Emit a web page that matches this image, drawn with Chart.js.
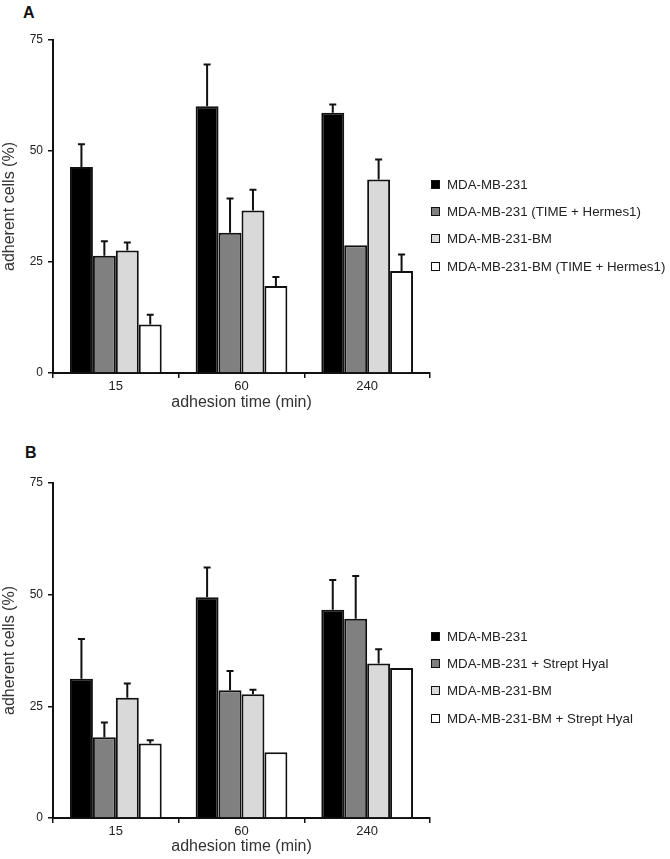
<!DOCTYPE html>
<html>
<head>
<meta charset="utf-8">
<script src="https://cdn.jsdelivr.net/npm/chart.js@4.4.1/dist/chart.umd.min.js"></script>
<style>
  body { margin: 0; background: #fff; font-family: "Liberation Sans", Arial, Helvetica, sans-serif; }
  #wrap { position: relative; width: 670px; height: 859px; overflow: hidden; }
  .panel { position: absolute; left: 0; }
  .tag { position: absolute; font-weight: bold; font-size: 16px; color: #111; }
  .legend { position: absolute; left: 431px; font-size: 13.3px; color: #222; }
  .legend div { position: absolute; left: 0; white-space: nowrap; line-height: 16px; height: 16px; }
  .legend span.box { position: absolute; left: 0; top: 3px; width: 7px; height: 7px; border: 1.5px solid #111; }
  .legend span.txt { position: absolute; left: 16px; top: 0; }
</style>
</head>
<body>
<div id="wrap">
  <div class="tag" style="left:23px;top:4px">A</div>
  <canvas id="chartA" class="panel" width="670" height="420" style="top:0"></canvas>
  <div id="legendA" class="legend" style="top:177px"></div>

  <div class="tag" style="left:25px;top:444px">B</div>
  <canvas id="chartB" class="panel" width="670" height="439" style="top:420px"></canvas>
  <div id="legendB" class="legend" style="top:629px"></div>
</div>
<script>
// adhesion time categories (min) and y ticks
const categories = ['15', '60', '240'];
const yTicks = [0, 25, 50, 75];

// Panel A series
const seriesA = ['MDA-MB-231', 'MDA-MB-231 (TIME + Hermes1)', 'MDA-MB-231-BM', 'MDA-MB-231-BM (TIME + Hermes1)'];
const a231 = [46.4, 60.1, 58.6];
const a231Err = [5.1, 9.4, 1.9];
const a231Time = [26.4, 31.6, 28.8];
const a231TimeErr = [3.3, 7.7, 0];
const aBM = [27.6, 36.6, 43.6];
const aBMErr = [1.8, 4.7, 4.5];
const aBMTime = [10.9, 19.6, 23.0];
const aBMTimeErr = [2.2, 2.0, 3.7];

// Panel B series
const seriesB = ['MDA-MB-231', 'MDA-MB-231 + Strept Hyal', 'MDA-MB-231-BM', 'MDA-MB-231-BM + Strept Hyal'];
const b231 = [31.2, 49.4, 46.6];
const b231Err = [8.9, 6.7, 6.7];
const b231Hyal = [18.1, 28.6, 44.6];
const b231HyalErr = [3.3, 4.3, 9.6];
const bBM = [26.9, 27.7, 34.6];
const bBMErr = [3.2, 1.0, 3.2];
const bBMHyal = [16.7, 14.7, 33.6];
const bBMHyalErr = [0.7, 0, 0];

const fills = ['#000000', '#808080', '#d9d9d9', '#ffffff'];
const fontFam = '"Liberation Sans", Arial, Helvetica, sans-serif';

// upper error bars with a small cap
const errorBars = {
  id: 'errorBars',
  afterDatasetsDraw(chart) {
    const ctx = chart.ctx;
    const y = chart.scales.y;
    ctx.save();
    ctx.strokeStyle = '#111';
    ctx.lineWidth = 2;
    chart.data.datasets.forEach((ds, i) => {
      chart.getDatasetMeta(i).data.forEach((bar, j) => {
        const e = ds.errors[j];
        if (!e) return;
        const y0 = y.getPixelForValue(ds.data[j]);
        const y1 = y.getPixelForValue(ds.data[j] + e);
        ctx.beginPath();
        ctx.moveTo(bar.x, y0);
        ctx.lineTo(bar.x, y1);
        ctx.moveTo(bar.x - 3.5, y1);
        ctx.lineTo(bar.x + 3.5, y1);
        ctx.stroke();
      });
    });
    ctx.restore();
  }
};

function makePanel(id, names, values, errors, top, xHeight, titlePad) {
  return new Chart(document.getElementById(id), {
    type: 'bar',
    data: {
      labels: categories,
      datasets: names.map((n, i) => ({
        label: n,
        data: values[i],
        errors: errors[i],
        backgroundColor: fills[i],
        borderColor: '#111',
        borderWidth: 2,
        barPercentage: 1,
        categoryPercentage: 0.73
      }))
    },
    options: {
      responsive: false,
      animation: false,
      layout: { padding: { top: top, left: 0, right: 240, bottom: 0 } },
      plugins: { legend: { display: false }, tooltip: { enabled: false } },
      scales: {
        x: {
          afterFit: s => { s.height = xHeight; },
          grid: { offset: true, drawOnChartArea: false, drawTicks: true, tickLength: 5, color: '#111', lineWidth: 1.5 },
          border: { display: true, color: '#111', width: 2 },
          ticks: { padding: 1, color: '#222', font: { family: fontFam, size: 13 } },
          title: { display: true, text: 'adhesion time (min)', color: '#333',
                   padding: { top: 0, bottom: titlePad }, font: { family: fontFam, size: 16 } }
        },
        y: {
          min: 0, max: 75,
          afterFit: s => { s.width = 53; },
          afterBuildTicks: s => { s.ticks = yTicks.map(v => ({ value: v })); },
          grid: { drawOnChartArea: false, drawTicks: true, tickLength: 5, color: '#111', lineWidth: 1.5 },
          border: { display: true, color: '#111', width: 2 },
          ticks: { padding: 5, color: '#222', font: { family: fontFam, size: 12 } },
          title: { display: true, text: 'adherent cells (%)', color: '#333',
                   padding: { top: 0, bottom: 0 }, font: { family: fontFam, size: 16 } }
        }
      }
    },
    plugins: [errorBars]
  });
}

function makeLegend(id, names, rowGap) {
  const el = document.getElementById(id);
  names.forEach((n, i) => {
    const row = document.createElement('div');
    row.style.top = (i * rowGap) + 'px';
    row.innerHTML = '<span class="box" style="background:' + fills[i] + '"></span><span class="txt"></span>';
    row.querySelector('.txt').textContent = n;
    el.appendChild(row);
  });
}

makePanel('chartA', seriesA, [a231, a231Time, aBM, aBMTime],
  [a231Err, a231TimeErr, aBMErr, aBMTimeErr], 40, 47, 7.4);
makePanel('chartB', seriesB, [b231, b231Hyal, bBM, bBMHyal],
  [b231Err, b231HyalErr, bBMErr, bBMHyalErr], 63, 41, 2.7);
makeLegend('legendA', seriesA, 27.2);
makeLegend('legendB', seriesB, 27.2);
</script>
</body>
</html>
